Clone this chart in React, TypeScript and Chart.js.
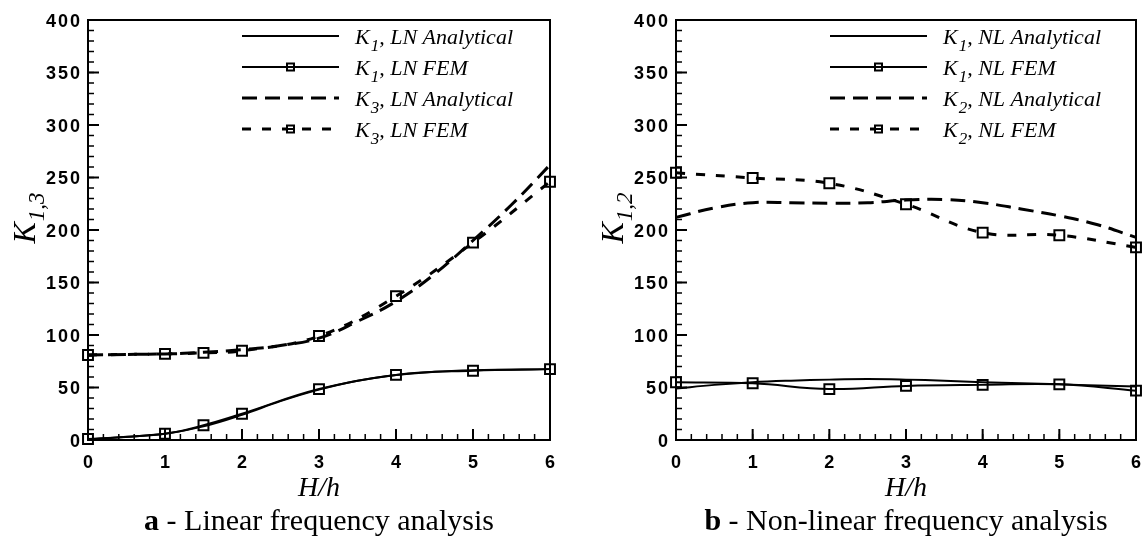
import React, { useEffect, useRef } from 'react';
import { Chart, registerables } from 'chart.js';

Chart.register(...registerables);

// Axis ticks shared by both panels
const H_TICKS = [0, 1, 2, 3, 4, 5, 6];
const K_TICKS = [0, 50, 100, 150, 200, 250, 300, 350, 400];
const H_MINOR_STEP = 0.2;
const K_MINOR_STEP = 10;

// Panel (a): linear frequency analysis
const LN_ANALYTICAL_H = [0, 0.5, 1, 1.5, 2, 2.5, 3, 3.5, 4, 4.5, 5, 5.5, 6];
const LN_K1_ANALYTICAL = [0.5, 3, 6, 13, 24, 37, 48, 56.5, 62, 65, 66.5, 67, 67.5];
const LN_K3_ANALYTICAL = [81, 81.5, 82, 83.5, 86, 90, 97, 113, 132, 158, 190, 224, 262];
const LN_FEM_H = [0, 1, 1.5, 2, 3, 4, 5, 6];
const LN_K1_FEM = [1, 6, 14, 25, 48.5, 62, 66, 67.5];
const LN_K3_FEM = [81, 82, 83, 85, 99, 137, 188, 246];

// Panel (b): non-linear frequency analysis
const NL_ANALYTICAL_H = [0, 0.5, 1, 1.5, 2, 2.5, 3, 3.5, 4, 4.5, 5, 5.5, 6];
const NL_K1_ANALYTICAL = [49, 52.5, 55, 56.5, 57.5, 58, 57.5, 56.5, 55, 54, 53, 52, 51];
const NL_K2_ANALYTICAL = [212, 221, 226, 226, 225.5, 226, 228.5, 229, 226, 220, 213.5, 205, 193];
const NL_FEM_H = [0, 1, 2, 3, 4, 5, 6];
const NL_K1_FEM = [55, 54, 48.5, 51.5, 52.5, 53, 47];
const NL_K2_FEM = [254.5, 249.5, 244.5, 224.5, 197.5, 195, 183.5];

const SERIF = '"Liberation Serif", "Times New Roman", serif';
const SANS = '"Liberation Sans", Arial, sans-serif';

const ANALYTICAL_DASH = [15, 8];
const FEM_DASH = [9, 11];

type Series = {
  sub: string;
  name: string;
  fem: boolean;
  dashed: boolean;
  h: number[];
  k: number[];
};

type Panel = {
  series: Series[];
  yTitleSub: string;
  captionTag: string;
  captionText: string;
};

const LINEAR_PANEL: Panel = {
  series: [
    { sub: '1', name: ', LN Analytical', fem: false, dashed: false, h: LN_ANALYTICAL_H, k: LN_K1_ANALYTICAL },
    { sub: '1', name: ', LN FEM', fem: true, dashed: false, h: LN_FEM_H, k: LN_K1_FEM },
    { sub: '3', name: ', LN Analytical', fem: false, dashed: true, h: LN_ANALYTICAL_H, k: LN_K3_ANALYTICAL },
    { sub: '3', name: ', LN FEM', fem: true, dashed: true, h: LN_FEM_H, k: LN_K3_FEM },
  ],
  yTitleSub: '1,3',
  captionTag: 'a',
  captionText: ' - Linear frequency analysis',
};

const NONLINEAR_PANEL: Panel = {
  series: [
    { sub: '1', name: ', NL Analytical', fem: false, dashed: false, h: NL_ANALYTICAL_H, k: NL_K1_ANALYTICAL },
    { sub: '1', name: ', NL FEM', fem: true, dashed: false, h: NL_FEM_H, k: NL_K1_FEM },
    { sub: '2', name: ', NL Analytical', fem: false, dashed: true, h: NL_ANALYTICAL_H, k: NL_K2_ANALYTICAL },
    { sub: '2', name: ', NL FEM', fem: true, dashed: true, h: NL_FEM_H, k: NL_K2_FEM },
  ],
  yTitleSub: '1,2',
  captionTag: 'b',
  captionText: ' - Non-linear frequency analysis',
};

function dashFor(s: Series): number[] {
  if (!s.dashed) return [];
  return s.fem ? FEM_DASH : ANALYTICAL_DASH;
}

// "K" followed by a subscript and trailing text; returns the total width
function richWidth(ctx: CanvasRenderingContext2D, sub: string, rest: string, size: number, subSize: number) {
  ctx.font = `italic ${size}px ${SERIF}`;
  let w = ctx.measureText('K').width + 1;
  ctx.font = `italic ${subSize}px ${SERIF}`;
  w += ctx.measureText(sub).width;
  ctx.font = `italic ${size}px ${SERIF}`;
  w += ctx.measureText(rest).width;
  return w;
}

function drawRich(
  ctx: CanvasRenderingContext2D,
  x: number,
  y: number,
  sub: string,
  rest: string,
  size: number,
  subSize: number,
  drop: number
) {
  ctx.textAlign = 'left';
  ctx.textBaseline = 'alphabetic';
  ctx.font = `italic ${size}px ${SERIF}`;
  ctx.fillText('K', x, y);
  x += ctx.measureText('K').width + 1;
  ctx.font = `italic ${subSize}px ${SERIF}`;
  ctx.fillText(sub, x, y + drop);
  x += ctx.measureText(sub).width;
  ctx.font = `italic ${size}px ${SERIF}`;
  ctx.fillText(rest, x, y);
}

function line(ctx: CanvasRenderingContext2D, x0: number, y0: number, x1: number, y1: number) {
  ctx.beginPath();
  ctx.moveTo(x0, y0);
  ctx.lineTo(x1, y1);
  ctx.stroke();
}

// Frame with inward major/minor ticks on the left and bottom edges
function drawAxes(chart: any) {
  const ctx: CanvasRenderingContext2D = chart.ctx;
  const { left, right, top, bottom } = chart.chartArea;
  const xs = chart.scales.x;
  const ys = chart.scales.y;
  ctx.save();
  ctx.strokeStyle = '#000000';
  ctx.setLineDash([]);
  ctx.lineCap = 'butt';

  ctx.lineWidth = 1.5;
  const hMin = H_TICKS[0];
  const hMax = H_TICKS[H_TICKS.length - 1];
  const hCount = Math.round((hMax - hMin) / H_MINOR_STEP);
  for (let i = 0; i <= hCount; i++) {
    const px = xs.getPixelForValue(hMin + i * H_MINOR_STEP);
    line(ctx, px, bottom, px, bottom - 6);
  }
  const kMin = K_TICKS[0];
  const kMax = K_TICKS[K_TICKS.length - 1];
  const kCount = Math.round((kMax - kMin) / K_MINOR_STEP);
  for (let i = 0; i <= kCount; i++) {
    const py = ys.getPixelForValue(kMin + i * K_MINOR_STEP);
    line(ctx, left, py, left + 6, py);
  }

  ctx.lineWidth = 2;
  H_TICKS.forEach((h) => {
    const px = xs.getPixelForValue(h);
    line(ctx, px, bottom, px, bottom - 11);
  });
  K_TICKS.forEach((k) => {
    const py = ys.getPixelForValue(k);
    line(ctx, left, py, left + 11, py);
  });

  ctx.lineWidth = 2;
  ctx.strokeRect(left, top, right - left, bottom - top);
  ctx.restore();
}

function decorPlugin(p: Panel) {
  return {
    id: 'panelDecor',
    afterDraw(chart: any) {
      drawAxes(chart);
      const ctx: CanvasRenderingContext2D = chart.ctx;
      const { left, right, top, bottom } = chart.chartArea;
      const xs = chart.scales.x;
      const ys = chart.scales.y;
      ctx.save();
      ctx.fillStyle = '#000';

      // tick labels
      ctx.font = `bold 18px ${SANS}`;
      (ctx as any).letterSpacing = '2px';
      ctx.textBaseline = 'alphabetic';
      ctx.textAlign = 'center';
      H_TICKS.forEach((h) => {
        ctx.fillText(String(h), xs.getPixelForValue(h) + 1, bottom + 28);
      });
      ctx.textAlign = 'right';
      K_TICKS.forEach((k) => {
        ctx.fillText(String(k), left - 6, ys.getPixelForValue(k) + 6.5);
      });
      (ctx as any).letterSpacing = '0px';

      // legend
      const lx0 = left + 154;
      const lx1 = left + 251;
      const tx = left + 267;
      p.series.forEach((s, i) => {
        const y = top + 16 + i * 31;
        ctx.strokeStyle = '#000';
        ctx.lineWidth = s.dashed ? 3 : 2;
        ctx.setLineDash(dashFor(s));
        line(ctx, lx0, y, lx1, y);
        ctx.setLineDash([]);
        if (s.fem) {
          const mx = (lx0 + lx1) / 2;
          ctx.lineWidth = 2;
          ctx.fillStyle = '#fff';
          ctx.fillRect(mx - 3.5, y - 3.5, 7, 7);
          ctx.strokeRect(mx - 3.5, y - 3.5, 7, 7);
          line(ctx, mx - 3.5, y, mx + 3.5, y);
          ctx.fillStyle = '#000';
        }
        drawRich(ctx, tx, y + 7.5, s.sub, s.name, 22, 17, 7);
      });

      // y axis title, rotated
      const cy = (top + bottom) / 2 - 12;
      const w = richWidth(ctx, p.yTitleSub, '', 32, 23);
      ctx.save();
      ctx.translate(left - 53, cy);
      ctx.rotate(-Math.PI / 2);
      drawRich(ctx, -w / 2, 0, p.yTitleSub, '', 32, 23, 9);
      ctx.restore();

      // x axis title
      const cx = (left + right) / 2;
      ctx.font = `italic 28px ${SERIF}`;
      ctx.textAlign = 'center';
      ctx.fillText('H/h', cx, bottom + 56);

      // caption
      ctx.font = `bold 30px ${SERIF}`;
      const tagW = ctx.measureText(p.captionTag).width;
      ctx.font = `30px ${SERIF}`;
      const textW = ctx.measureText(p.captionText).width;
      const start = cx - (tagW + textW) / 2;
      ctx.textAlign = 'left';
      ctx.font = `bold 30px ${SERIF}`;
      ctx.fillText(p.captionTag, start, bottom + 90);
      ctx.font = `30px ${SERIF}`;
      ctx.fillText(p.captionText, start + tagW, bottom + 90);

      ctx.restore();
    },
  };
}

function buildConfig(p: Panel, padding: { left: number; right: number; top: number; bottom: number }): any {
  const datasets = p.series.map((s) => ({
    label: `K${s.sub}${s.name}`,
    data: s.h.map((h, i) => ({ x: h, y: s.k[i] })),
    borderColor: '#000',
    borderWidth: s.dashed ? 3 : 2,
    borderDash: dashFor(s),
    pointRadius: s.fem ? 7 : 0,
    pointHoverRadius: s.fem ? 7 : 0,
    pointStyle: 'rect',
    pointBorderWidth: 2,
    pointBorderColor: '#000',
    pointBackgroundColor: 'rgba(0,0,0,0)',
    tension: 0.4,
    fill: false,
    clip: 14,
  }));
  return {
    type: 'line',
    data: { datasets },
    options: {
      responsive: false,
      animation: false,
      devicePixelRatio: 1,
      layout: { padding },
      events: [],
      plugins: {
        legend: { display: false },
        title: { display: false },
        tooltip: { enabled: false },
      },
      scales: {
        x: { type: 'linear', min: H_TICKS[0], max: H_TICKS[H_TICKS.length - 1], display: false },
        y: { type: 'linear', min: K_TICKS[0], max: K_TICKS[K_TICKS.length - 1], display: false },
      },
    },
    plugins: [decorPlugin(p)],
  };
}

export default function App() {
  const leftRef = useRef<HTMLCanvasElement>(null);
  const rightRef = useRef<HTMLCanvasElement>(null);

  useEffect(() => {
    const a = new Chart(leftRef.current as HTMLCanvasElement, buildConfig(LINEAR_PANEL, { left: 88, right: 22, top: 20, bottom: 99 }));
    const b = new Chart(rightRef.current as HTMLCanvasElement, buildConfig(NONLINEAR_PANEL, { left: 104, right: 7, top: 20, bottom: 99 }));
    return () => {
      a.destroy();
      b.destroy();
    };
  }, []);

  return (
    <div style={{ position: 'absolute', left: 0, top: 0, width: 1145, height: 539, background: '#fff' }}>
      <canvas ref={leftRef} width={572} height={539} style={{ position: 'absolute', left: 0, top: 0, width: 572, height: 539 }} />
      <canvas ref={rightRef} width={573} height={539} style={{ position: 'absolute', left: 572, top: 0, width: 573, height: 539 }} />
    </div>
  );
}
